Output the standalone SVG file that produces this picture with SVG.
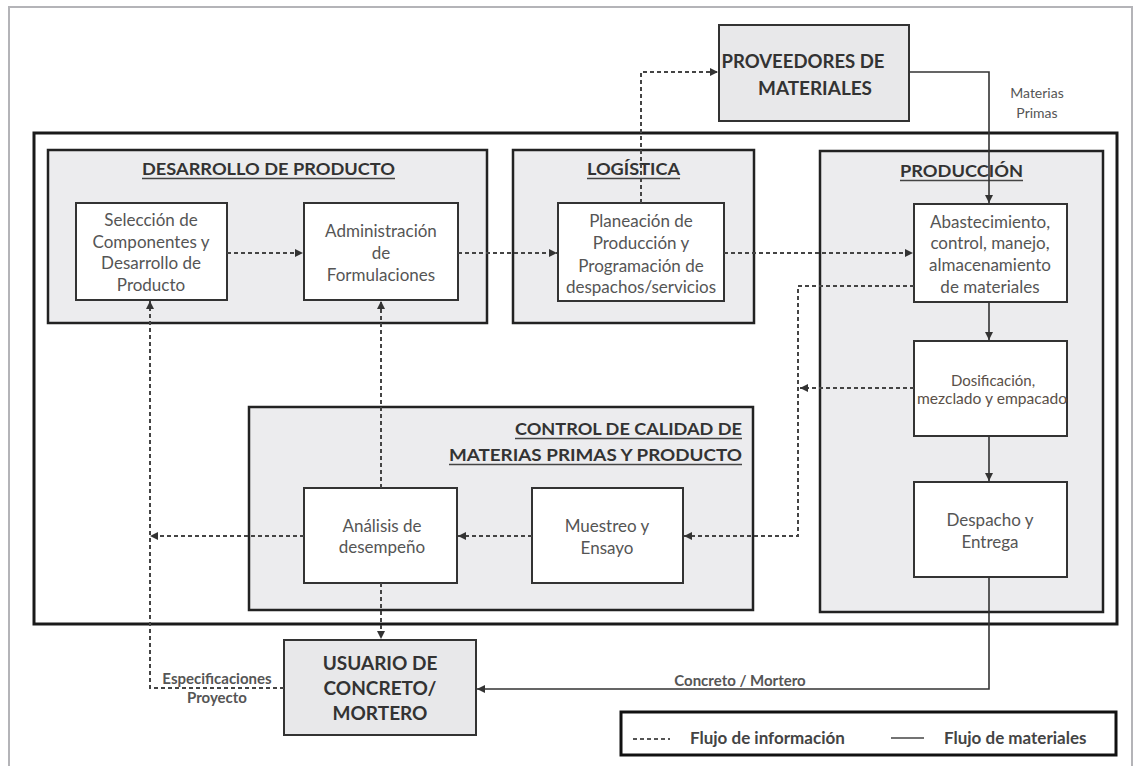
<svg xmlns="http://www.w3.org/2000/svg" width="1134" height="766" viewBox="0 0 1134 766">
<defs>
<marker id="ah" markerUnits="userSpaceOnUse" markerWidth="9" markerHeight="9" refX="8" refY="4" orient="auto" viewBox="0 0 9 8">
<path d="M0,0 L8,4 L0,8 z" fill="#333"/>
</marker>
<style>
.frame{fill:none;stroke:#b4b4b8;stroke-width:2}
.main{fill:none;stroke:#1a1a1a;stroke-width:3}
.grp{fill:#ececee;stroke:#222;stroke-width:2.5}
.ext{fill:#e8e8ea;stroke:#333;stroke-width:2}
.box{fill:#fff;stroke:#333;stroke-width:2}
.ttl{font-family:Lato,"Open Sans",sans-serif;font-weight:bold;font-size:17px;fill:#333}
.ul{stroke:#444;stroke-width:1.5}
.big{font-family:Lato,"Open Sans",sans-serif;font-weight:bold;font-size:19px;fill:#333;text-anchor:middle}
.txt{font-family:Lato,"Open Sans",sans-serif;font-size:17px;fill:#555;text-anchor:middle}
.lbl{font-family:Lato,"Open Sans",sans-serif;font-weight:bold;font-size:15px;fill:#555;text-anchor:middle}
.leg{font-family:Lato,"Open Sans",sans-serif;font-weight:bold;font-size:17px;fill:#444}
.info{fill:none;stroke:#444;stroke-width:2;stroke-dasharray:4 3}
.mat{fill:none;stroke:#333;stroke-width:1.6}
</style>
</defs>
<rect x="0" y="0" width="1134" height="766" fill="#fff"/>
<rect class="frame" x="9" y="7" width="1123" height="770"/>
<rect class="main" x="34" y="133" width="1083" height="491"/>

<g id="desarrollo-producto">
<rect class="grp" x="48" y="150" width="439" height="173"/>
<text class="ttl" x="142" y="175" textLength="253" lengthAdjust="spacingAndGlyphs">DESARROLLO DE PRODUCTO</text>
<line class="ul" x1="142" y1="178.5" x2="395" y2="178.5"/>
</g>
<g id="logistica">
<rect class="grp" x="513" y="150" width="241" height="173"/>
<text class="ttl" x="587" y="175" textLength="93" lengthAdjust="spacingAndGlyphs">LOGÍSTICA</text>
<line class="ul" x1="587" y1="178.5" x2="680" y2="178.5"/>
</g>
<g id="produccion">
<rect class="grp" x="820" y="151" width="283" height="461"/>
<text class="ttl" x="900" y="177" textLength="123" lengthAdjust="spacingAndGlyphs">PRODUCCIÓN</text>
<line class="ul" x1="900" y1="180.5" x2="1023" y2="180.5"/>
</g>
<g id="control-calidad">
<rect class="grp" x="249" y="407" width="504" height="203"/>
<text class="ttl" x="515" y="435" textLength="227" lengthAdjust="spacingAndGlyphs">CONTROL DE CALIDAD DE</text>
<line class="ul" x1="515" y1="438.5" x2="742" y2="438.5"/>
<text class="ttl" x="449" y="461" textLength="293" lengthAdjust="spacingAndGlyphs">MATERIAS PRIMAS Y PRODUCTO</text>
<line class="ul" x1="449" y1="464.5" x2="742" y2="464.5"/>
</g>

<g id="proveedores">
<rect class="ext" x="719" y="25" width="190" height="96"/>
<text class="big" x="803" y="68" textLength="163" lengthAdjust="spacingAndGlyphs">PROVEEDORES DE</text>
<text class="big" x="815" y="95" textLength="114" lengthAdjust="spacingAndGlyphs">MATERIALES</text>
</g>
<g id="usuario">
<rect class="ext" x="284" y="640" width="192" height="95"/>
<text class="big" x="380" y="670">USUARIO DE</text>
<text class="big" x="380" y="695">CONCRETO/</text>
<text class="big" x="380" y="720">MORTERO</text>
</g>

<g id="seleccion">
<rect class="box" x="76" y="203" width="151" height="97"/>
<text class="txt" x="151" y="226">Selección de</text>
<text class="txt" x="151" y="248">Componentes y</text>
<text class="txt" x="151" y="269">Desarrollo de</text>
<text class="txt" x="151" y="291">Producto</text>
</g>
<g id="administracion">
<rect class="box" x="304" y="203" width="154" height="97"/>
<text class="txt" x="381" y="237">Administración</text>
<text class="txt" x="381" y="259">de</text>
<text class="txt" x="381" y="281">Formulaciones</text>
</g>
<g id="planeacion">
<rect class="box" x="558" y="203" width="166" height="98"/>
<text class="txt" x="641" y="227">Planeación de</text>
<text class="txt" x="641" y="249">Producción y</text>
<text class="txt" x="641" y="272">Programación de</text>
<text class="txt" x="641" y="293">despachos/servicios</text>
</g>
<g id="abastecimiento">
<rect class="box" x="914" y="204" width="153" height="98"/>
<text class="txt" x="990" y="228">Abastecimiento,</text>
<text class="txt" x="990" y="249">control, manejo,</text>
<text class="txt" x="990" y="271">almacenamiento</text>
<text class="txt" x="990" y="293">de materiales</text>
</g>
<g id="dosificacion">
<rect class="box" x="914" y="341" width="153" height="95"/>
<text class="txt" x="993" y="386" style="fill:#5a5048;font-size:15px">Dosificación,</text>
<text class="txt" x="992" y="404" style="fill:#5a5048;font-size:15px" textLength="150" lengthAdjust="spacingAndGlyphs">mezclado y empacado</text>
</g>
<g id="despacho">
<rect class="box" x="914" y="482" width="153" height="95"/>
<text class="txt" x="990" y="526">Despacho y</text>
<text class="txt" x="990" y="548">Entrega</text>
</g>
<g id="analisis">
<rect class="box" x="304" y="488" width="153" height="95"/>
<text class="txt" x="382" y="532">Análisis de</text>
<text class="txt" x="382" y="553">desempeño</text>
</g>
<g id="muestreo">
<rect class="box" x="532" y="488" width="151" height="95"/>
<text class="txt" x="607" y="532">Muestreo y</text>
<text class="txt" x="607" y="554">Ensayo</text>
</g>

<g id="connectors">
<path class="info" d="M227,253 H303" marker-end="url(#ah)"/>
<path class="info" d="M458,253 H557" marker-end="url(#ah)"/>
<path class="info" d="M641,203 V72 H718" marker-end="url(#ah)"/>
<path class="info" d="M724,253 H913" marker-end="url(#ah)"/>
<path class="mat" d="M909,72 H989 V203" marker-end="url(#ah)"/>
<path class="mat" d="M989,302 V340" marker-end="url(#ah)"/>
<path class="mat" d="M989,436 V481" marker-end="url(#ah)"/>
<path class="mat" d="M989,577 V689 H477" marker-end="url(#ah)"/>
<path class="info" d="M914,286 H798 V536 H684" marker-end="url(#ah)"/>
<path class="info" d="M914,388 H800" marker-end="url(#ah)"/>
<path class="info" d="M532,536 H458" marker-end="url(#ah)"/>
<path class="info" d="M381,488 V301" marker-end="url(#ah)"/>
<path class="info" d="M381,583 V639" marker-end="url(#ah)"/>
<path class="info" d="M304,536 H150" marker-end="url(#ah)"/>
<path class="info" d="M284,688 H150 V301" marker-end="url(#ah)"/>
<text class="lbl" x="1037" y="98" style="font-weight:normal;font-size:14px">Materias</text>
<text class="lbl" x="1037" y="118" style="font-weight:normal;font-size:14px">Primas</text>
<text class="lbl" x="217" y="684">Especificaciones</text>
<text class="lbl" x="217" y="703">Proyecto</text>
<text class="lbl" x="740" y="686">Concreto / Mortero</text>
</g>

<g id="legend">
<rect x="621" y="712" width="495" height="43" fill="#fff" stroke="#111" stroke-width="3"/>
<line x1="633" y1="739" x2="670" y2="739" stroke="#555" stroke-width="2" stroke-dasharray="4 3"/>
<text class="leg" x="690" y="744">Flujo de información</text>
<line x1="891" y1="738" x2="924" y2="738" stroke="#444" stroke-width="1.6"/>
<text class="leg" x="944" y="744">Flujo de materiales</text>
</g>
</svg>
